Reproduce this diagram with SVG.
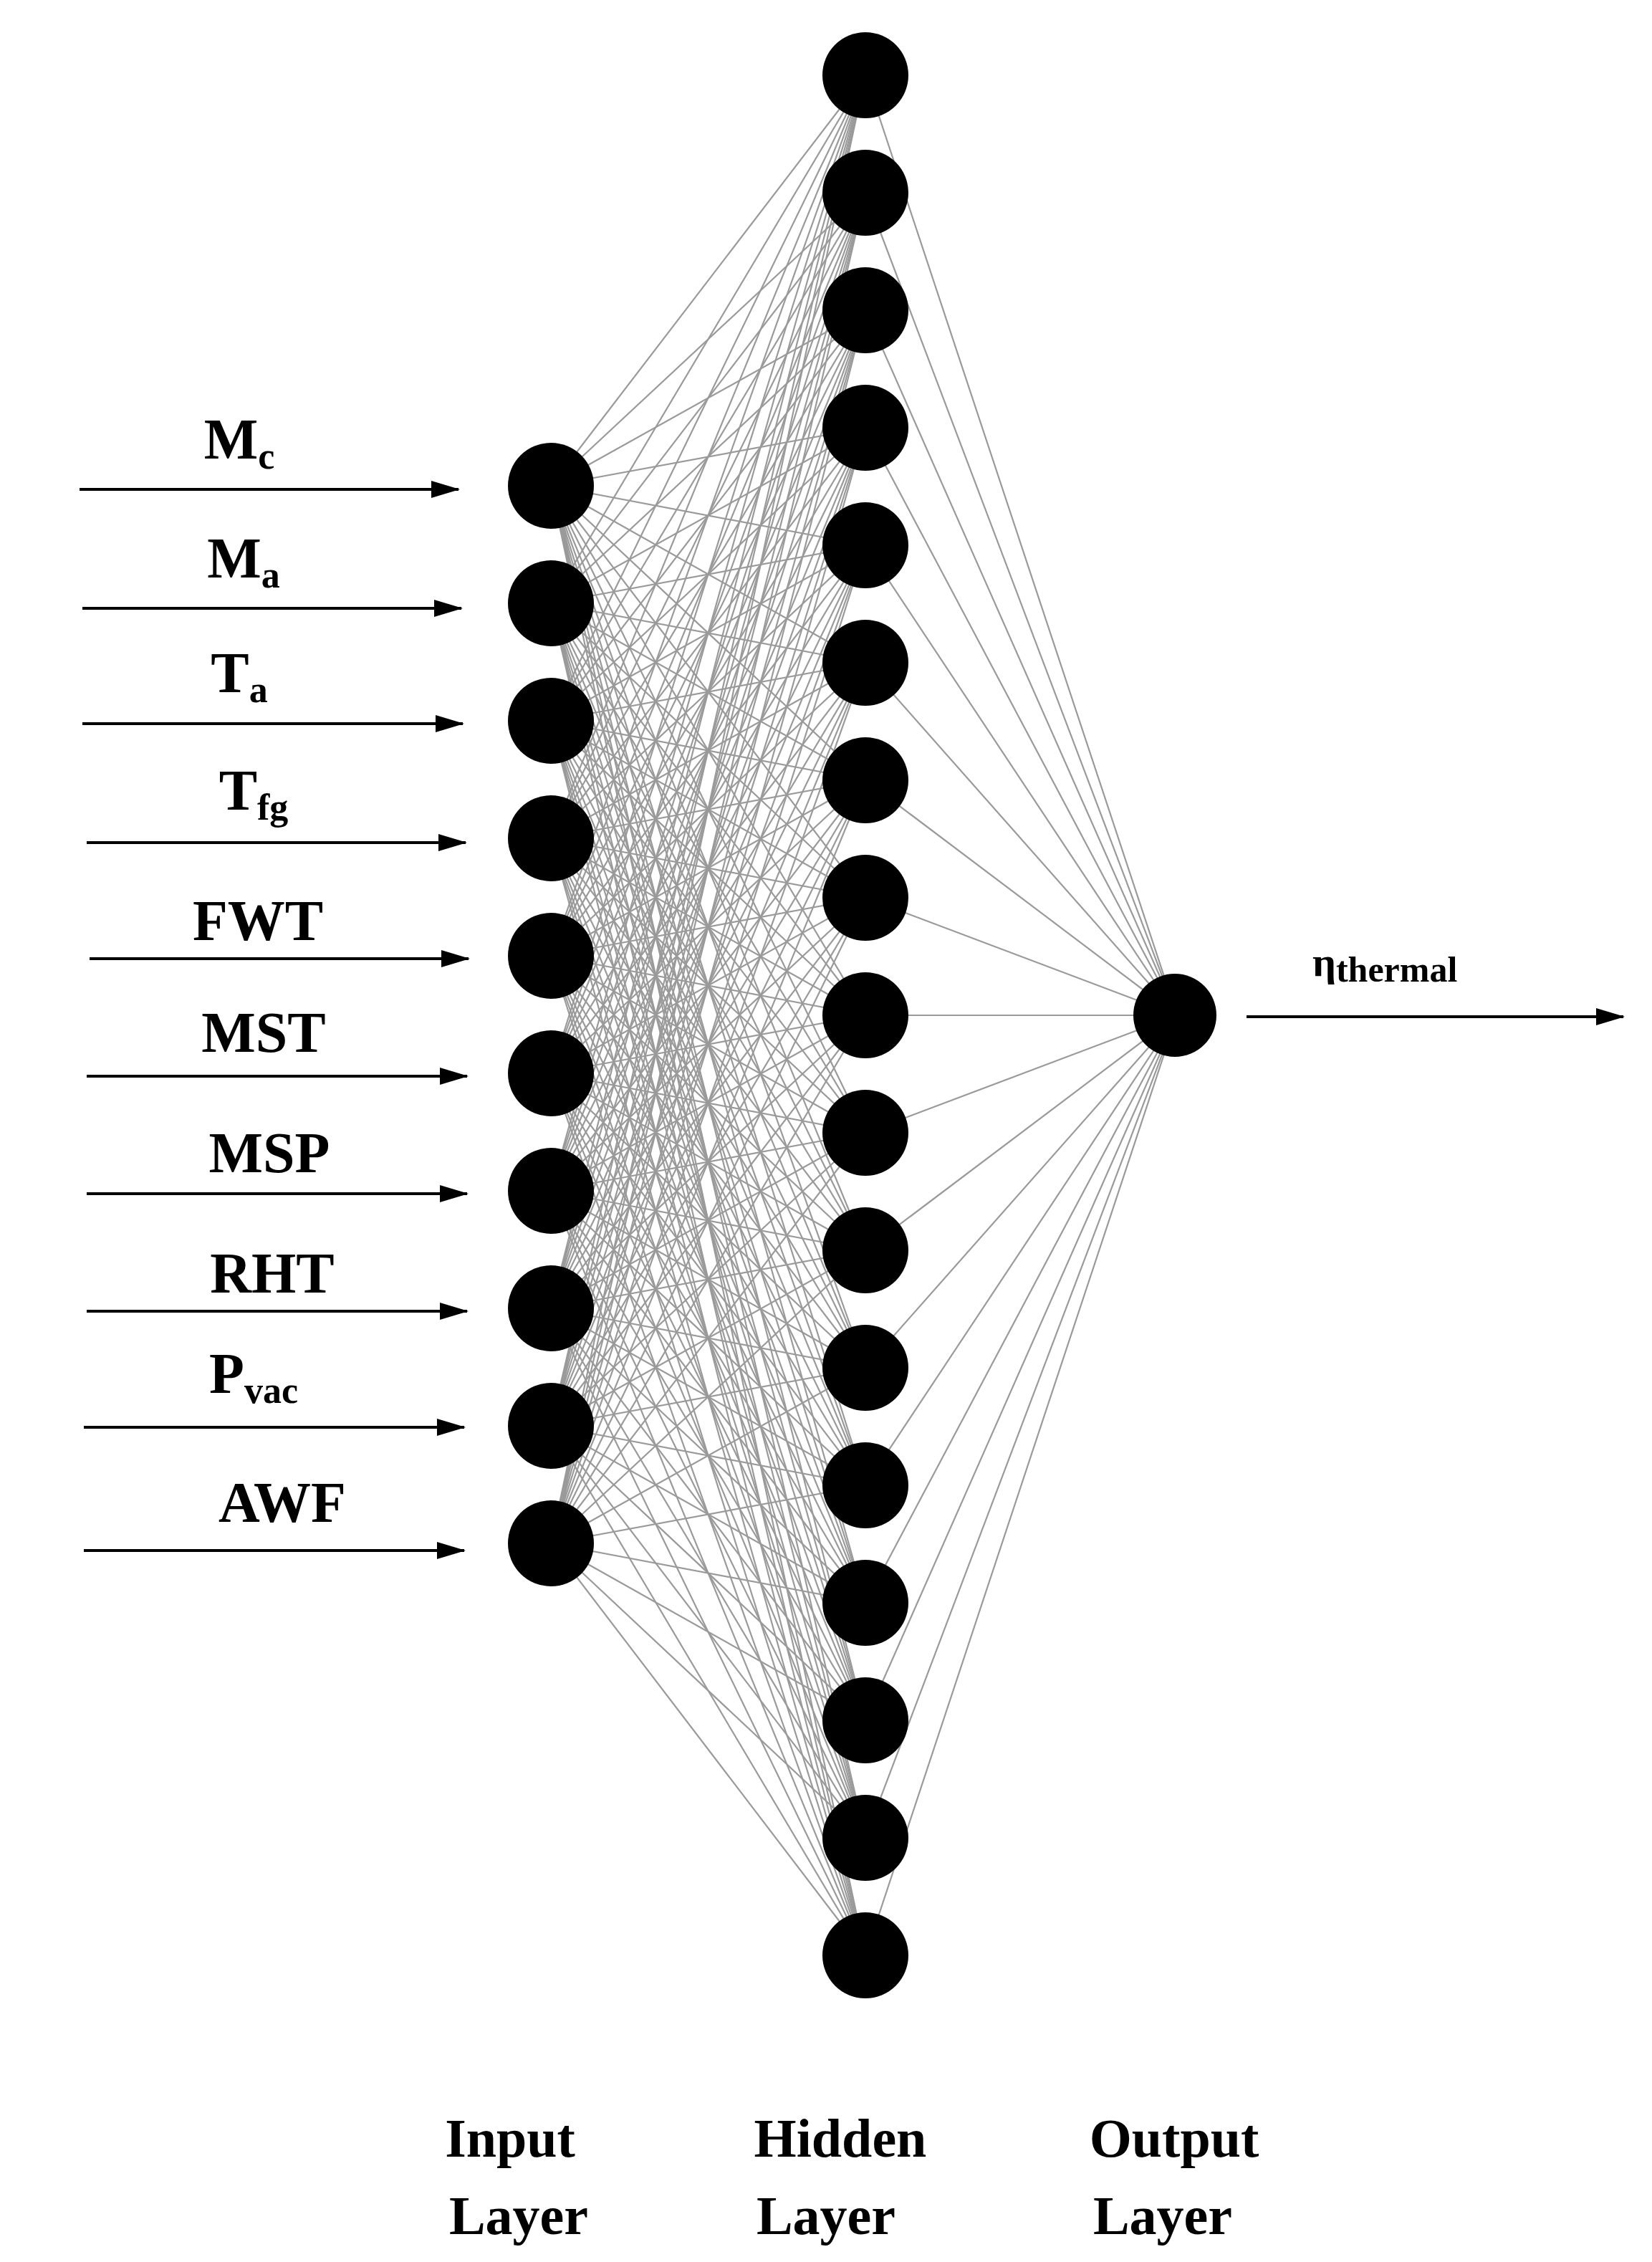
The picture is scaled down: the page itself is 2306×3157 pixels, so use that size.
<svg xmlns="http://www.w3.org/2000/svg" width="2306" height="3157" viewBox="0 0 2306 3157">
<style>
.c{stroke:#9a9a9a;stroke-width:2.2;fill:none}
.a{stroke:#000;stroke-width:4;fill:none}
.n{fill:#000}
text{font-family:"Liberation Serif",serif;font-weight:bold;fill:#000}
.l{font-size:80px;text-anchor:middle}
.s{font-size:52px}
.b{font-size:76px;text-anchor:middle}
</style>
<defs><marker id="ar" markerWidth="40" markerHeight="24" refX="38" refY="12" orient="auto" markerUnits="userSpaceOnUse" viewBox="0 0 40 24"><path d="M0 0L40 12L0 24z" fill="#000"/></marker></defs>
<rect width="2306" height="3157" fill="#fff"/>
<g id="connectors">
<path class="c" d="M769 678L1208 105 769 678 1208 269 769 678 1208 433 769 678 1208 597 769 678 1208 761 769 678 1208 925 769 678 1208 1089 769 678 1208 1253 769 678 1208 1417 769 678 1208 1581 769 678 1208 1745 769 678 1208 1909 769 678 1208 2073 769 678 1208 2237 769 678 1208 2401 769 678 1208 2565 769 678 1208 2729"/>
<path class="c" d="M769 842L1208 105 769 842 1208 269 769 842 1208 433 769 842 1208 597 769 842 1208 761 769 842 1208 925 769 842 1208 1089 769 842 1208 1253 769 842 1208 1417 769 842 1208 1581 769 842 1208 1745 769 842 1208 1909 769 842 1208 2073 769 842 1208 2237 769 842 1208 2401 769 842 1208 2565 769 842 1208 2729"/>
<path class="c" d="M769 1006L1208 105 769 1006 1208 269 769 1006 1208 433 769 1006 1208 597 769 1006 1208 761 769 1006 1208 925 769 1006 1208 1089 769 1006 1208 1253 769 1006 1208 1417 769 1006 1208 1581 769 1006 1208 1745 769 1006 1208 1909 769 1006 1208 2073 769 1006 1208 2237 769 1006 1208 2401 769 1006 1208 2565 769 1006 1208 2729"/>
<path class="c" d="M769 1170L1208 105 769 1170 1208 269 769 1170 1208 433 769 1170 1208 597 769 1170 1208 761 769 1170 1208 925 769 1170 1208 1089 769 1170 1208 1253 769 1170 1208 1417 769 1170 1208 1581 769 1170 1208 1745 769 1170 1208 1909 769 1170 1208 2073 769 1170 1208 2237 769 1170 1208 2401 769 1170 1208 2565 769 1170 1208 2729"/>
<path class="c" d="M769 1334L1208 105 769 1334 1208 269 769 1334 1208 433 769 1334 1208 597 769 1334 1208 761 769 1334 1208 925 769 1334 1208 1089 769 1334 1208 1253 769 1334 1208 1417 769 1334 1208 1581 769 1334 1208 1745 769 1334 1208 1909 769 1334 1208 2073 769 1334 1208 2237 769 1334 1208 2401 769 1334 1208 2565 769 1334 1208 2729"/>
<path class="c" d="M769 1498L1208 105 769 1498 1208 269 769 1498 1208 433 769 1498 1208 597 769 1498 1208 761 769 1498 1208 925 769 1498 1208 1089 769 1498 1208 1253 769 1498 1208 1417 769 1498 1208 1581 769 1498 1208 1745 769 1498 1208 1909 769 1498 1208 2073 769 1498 1208 2237 769 1498 1208 2401 769 1498 1208 2565 769 1498 1208 2729"/>
<path class="c" d="M769 1662L1208 105 769 1662 1208 269 769 1662 1208 433 769 1662 1208 597 769 1662 1208 761 769 1662 1208 925 769 1662 1208 1089 769 1662 1208 1253 769 1662 1208 1417 769 1662 1208 1581 769 1662 1208 1745 769 1662 1208 1909 769 1662 1208 2073 769 1662 1208 2237 769 1662 1208 2401 769 1662 1208 2565 769 1662 1208 2729"/>
<path class="c" d="M769 1826L1208 105 769 1826 1208 269 769 1826 1208 433 769 1826 1208 597 769 1826 1208 761 769 1826 1208 925 769 1826 1208 1089 769 1826 1208 1253 769 1826 1208 1417 769 1826 1208 1581 769 1826 1208 1745 769 1826 1208 1909 769 1826 1208 2073 769 1826 1208 2237 769 1826 1208 2401 769 1826 1208 2565 769 1826 1208 2729"/>
<path class="c" d="M769 1990L1208 105 769 1990 1208 269 769 1990 1208 433 769 1990 1208 597 769 1990 1208 761 769 1990 1208 925 769 1990 1208 1089 769 1990 1208 1253 769 1990 1208 1417 769 1990 1208 1581 769 1990 1208 1745 769 1990 1208 1909 769 1990 1208 2073 769 1990 1208 2237 769 1990 1208 2401 769 1990 1208 2565 769 1990 1208 2729"/>
<path class="c" d="M769 2154L1208 105 769 2154 1208 269 769 2154 1208 433 769 2154 1208 597 769 2154 1208 761 769 2154 1208 925 769 2154 1208 1089 769 2154 1208 1253 769 2154 1208 1417 769 2154 1208 1581 769 2154 1208 1745 769 2154 1208 1909 769 2154 1208 2073 769 2154 1208 2237 769 2154 1208 2401 769 2154 1208 2565 769 2154 1208 2729"/>
<path class="c" d="M1643 1417L1208 105 1643 1417 1208 269 1643 1417 1208 433 1643 1417 1208 597 1643 1417 1208 761 1643 1417 1208 925 1643 1417 1208 1089 1643 1417 1208 1253 1643 1417 1208 1417 1643 1417 1208 1581 1643 1417 1208 1745 1643 1417 1208 1909 1643 1417 1208 2073 1643 1417 1208 2237 1643 1417 1208 2401 1643 1417 1208 2565 1643 1417 1208 2729"/>
<g class="a" marker-end="url(#ar)">
<path d="M111 683H640"/><path d="M115 849H644"/><path d="M115 1010H646"/><path d="M121 1176H650"/><path d="M125 1338H654"/><path d="M121 1502H652"/><path d="M121 1666H652"/><path d="M121 1830H652"/><path d="M117 1992H648"/><path d="M117 2164H648"/><path d="M1740 1419H2266"/>
</g>
</g>
<g id="inputs" class="n">
<circle cx="769" cy="678" r="60"/><circle cx="769" cy="842" r="60"/><circle cx="769" cy="1006" r="60"/><circle cx="769" cy="1170" r="60"/><circle cx="769" cy="1334" r="60"/><circle cx="769" cy="1498" r="60"/><circle cx="769" cy="1662" r="60"/><circle cx="769" cy="1826" r="60"/><circle cx="769" cy="1990" r="60"/><circle cx="769" cy="2154" r="60"/>
</g>
<g id="hidden" class="n">
<circle cx="1208" cy="105" r="60"/><circle cx="1208" cy="269" r="60"/><circle cx="1208" cy="433" r="60"/><circle cx="1208" cy="597" r="60"/><circle cx="1208" cy="761" r="60"/><circle cx="1208" cy="925" r="60"/><circle cx="1208" cy="1089" r="60"/><circle cx="1208" cy="1253" r="60"/><circle cx="1208" cy="1417" r="60"/><circle cx="1208" cy="1581" r="60"/><circle cx="1208" cy="1745" r="60"/><circle cx="1208" cy="1909" r="60"/><circle cx="1208" cy="2073" r="60"/><circle cx="1208" cy="2237" r="60"/><circle cx="1208" cy="2401" r="60"/><circle cx="1208" cy="2565" r="60"/><circle cx="1208" cy="2729" r="60"/>
</g>
<g id="output" class="n"><circle cx="1640" cy="1417" r="58"/></g>
<g id="labels">
<text class="l" x="334" y="640">M<tspan class="s" dy="14">c</tspan></text>
<text class="l" x="340" y="806">M<tspan class="s" dy="14">a</tspan></text>
<text class="l" x="334" y="966">T<tspan class="s" dy="14">a</tspan></text>
<text class="l" x="354" y="1130">T<tspan class="s" dy="14">fg</tspan></text>
<text class="l" x="360" y="1312">FWT</text>
<text class="l" x="368" y="1468">MST</text>
<text class="l" x="376" y="1636">MSP</text>
<text class="l" x="380" y="1804">RHT</text>
<text class="l" x="354" y="1944">P<tspan class="s" dy="14">vac</tspan></text>
<text class="l" x="394" y="2124">AWF</text>
<text class="s" x="1832" y="1362" style="font-size:58px">η<tspan dy="8" style="font-size:50px">thermal</tspan></text>
<text class="b" x="712" y="3010">Input</text><text class="b" x="724" y="3118">Layer</text>
<text class="b" x="1173" y="3010">Hidden</text><text class="b" x="1153" y="3118">Layer</text>
<text class="b" x="1639" y="3010">Output</text><text class="b" x="1623" y="3118">Layer</text>
</g>
</svg>
